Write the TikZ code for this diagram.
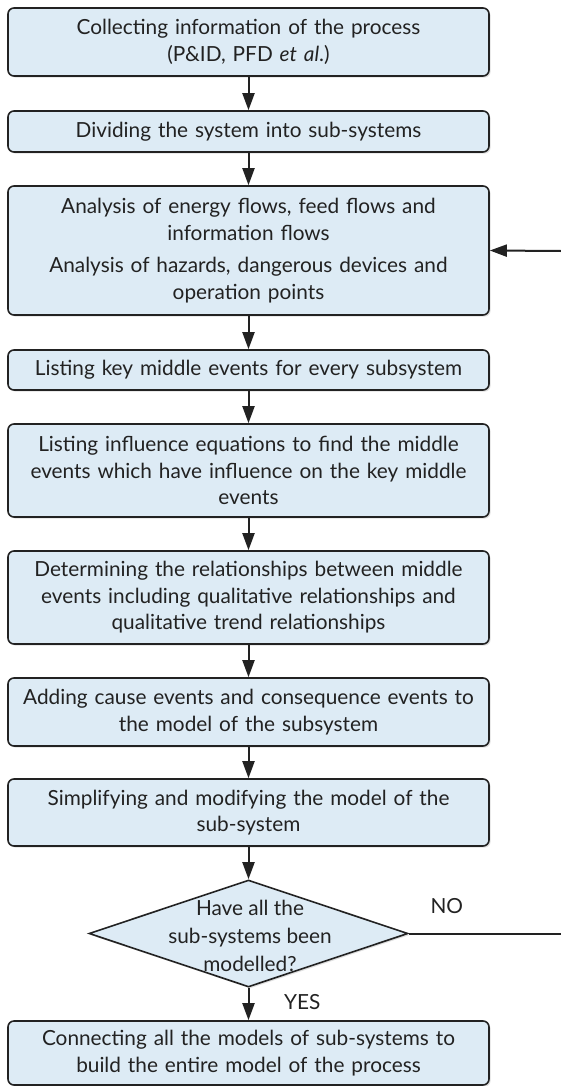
\documentclass[tikz,border=0pt]{standalone}
\usepackage{fontspec}
\setmainfont{Lato}
\usetikzlibrary{shapes.geometric, positioning, arrows.meta, shadows}
\usepackage{xcolor}
\definecolor{StepBlue}{HTML}{DDEBF5}
\definecolor{StepGrey}{HTML}{222222}

\begin{document}
\begin{tikzpicture}[
            x=0.5pt, y=-0.5pt,
            box/.style={draw=StepGrey, line width=0.8pt, rounded corners=3pt, text width=236pt, inner xsep=2.25pt, inner ysep=2pt, align=center, font=\fontsize{10.4}{13.3}\selectfont, text=StepGrey, fill=StepBlue, drop shadow={shadow xshift=0.8pt, shadow yshift=-0.8pt, opacity=0.25}},
            decision/.style={draw=StepGrey, line width=0.8pt, diamond, minimum width=159.5pt, minimum height=53.5pt, inner sep=0pt, fill=StepBlue, drop shadow={shadow xshift=0.8pt, shadow yshift=-0.8pt, opacity=0.25}},
            arrow/.style={-{Triangle[length=8.5pt, width=6pt]}, line width=1pt, StepGrey},
            tag/.style={font=\fontsize{10.4}{13.8}\selectfont, text=StepGrey}
        ]
            \useasboundingbox (0,0) rectangle (561,1086);
            \node[box, minimum height=34pt] (collect) at (248.5,42) {Collecting information of the process\\(P\&ID, PFD \textit{et al}.)};
            \node[box, minimum height=20.5pt] (divide) at (248.5,131.5) {Dividing the system into sub-systems};
            \node[box, minimum height=64.5pt] (analysis) at (248.5,250.5) {Analysis of energy flows, feed flows and\\information flows\\[3pt]Analysis of hazards, dangerous devices and\\operation points};
            \node[box, minimum height=20pt] (keyevents) at (248.5,370) {Listing key middle events for every subsystem};
            \node[box, minimum height=46.5pt] (influence) at (248.5,470.5) {Listing influence equations to find the middle\\events which have influence on the key middle\\events};
            \node[box, minimum height=46.5pt] (relations) at (248.5,597.5) {Determining the relationships between middle\\events including qualitative relationships and\\qualitative trend relationships};
            \node[box, minimum height=34pt] (causes) at (248.5,712) {Adding cause events and consequence events to\\the model of the subsystem};
            \node[box, minimum height=33.5pt] (simplify) at (248.5,812.5) {Simplifying and modifying the model of the\\sub-system};
            \node[decision] (done) at (248.5,933.5) {};
            \node[tag, align=center] (donetext) at (250,936) {Have all the\\sub-systems been\\modelled?};
            \node[box, minimum height=32pt] (connect) at (248.5,1053) {Connecting all the models of sub-systems to\\build the entire model of the process};

            \coordinate (loopin) at (561,251);
            \coordinate (loopout) at (561,933.5);

            \draw[arrow] (collect) -- (divide);
            \draw[arrow] (divide) -- (analysis);
            \draw[arrow] (analysis) -- (keyevents);
            \draw[arrow] (keyevents) -- (influence);
            \draw[arrow] (influence) -- (relations);
            \draw[arrow] (relations) -- (causes);
            \draw[arrow] (causes) -- (simplify);
            \draw[arrow] (simplify) -- (done);
            \draw[arrow] (done) -- node[tag, right=14pt, pos=0.45]{YES} (connect);
            \draw[line width=1pt, StepGrey] (done.east) -- node[tag, above=6pt, pos=0.25]{NO} (loopout);
            \draw[arrow] (loopin) -- (analysis.east);
        \end{tikzpicture}
\end{document}
